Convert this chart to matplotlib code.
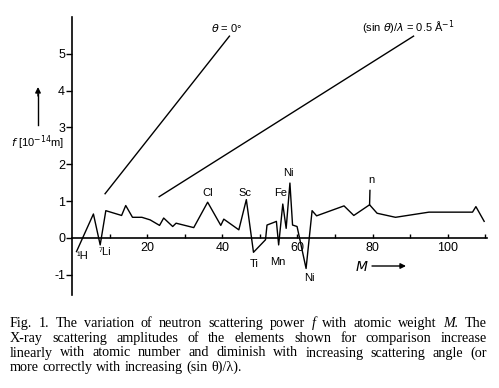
import numpy as np
import matplotlib.pyplot as plt

# %%
# Data: neutron scattering length f vs atomic weight M
M = [1.2, 5.7, 7.5, 9.0, 13.2, 14.3, 16.1, 18.6, 20.8, 23.3, 24.4, 26.8, 27.7,
     32.4, 36.1, 39.6, 40.4, 44.4, 46.4, 48.3, 51.5, 51.9, 53.7, 54.4, 55.0,
     56.1, 57.0, 58.0, 58.7, 59.9, 62.3, 63.9, 65.1, 72.4, 75.0, 79.2, 81.2,
     86.1, 95.0, 106.6, 107.5, 109.7]
f = [-0.37, 0.65, -0.19, 0.74, 0.61, 0.88, 0.56, 0.56, 0.49, 0.34, 0.54, 0.31,
     0.40, 0.28, 0.97, 0.34, 0.51, 0.22, 1.04, -0.39, -0.05, 0.35, 0.42, 0.45,
     -0.19, 0.92, 0.26, 1.49, 0.35, 0.31, -0.83, 0.74, 0.60, 0.87, 0.61, 0.90,
     0.67, 0.56, 0.70, 0.70, 0.85, 0.45]

# X-ray amplitude lines
xray0_M = [8.8, 41.9]
xray0_f = [1.2, 5.48]
xray05_M = [23.2, 90.9]
xray05_f = [1.12, 5.48]

# element labels
el_names = ['¹H', '⁷Li', 'Cl', 'Sc', 'Ti', 'Mn', 'Fe', 'Ni', 'Ni', 'n']
el_M = [2.8, 8.8, 36.1, 46.1, 48.4, 54.9, 55.5, 57.6, 63.2, 79.6]
el_f = [-0.50, -0.38, 1.23, 1.23, -0.71, -0.65, 1.23, 1.77, -1.09, 1.58]

n_leader_M = [79.2, 79.3]
n_leader_f = [0.90, 1.29]

caption = [
    "Fig. 1.  The variation of neutron scattering power f with atomic weight M. The",
    "X-ray scattering amplitudes of the elements shown for comparison increase",
    "linearly with atomic number and diminish with increasing scattering angle (or",
    "more correctly with increasing (sin θ)/λ).",
]

# %%
plt.rcParams['font.family'] = 'Liberation Sans'
plt.rcParams['mathtext.fontset'] = 'dejavusans'
plt.rcParams['axes.unicode_minus'] = False
fig = plt.figure(figsize=(4.99, 3.88), dpi=100)
ax = fig.add_axes([0.1443, 0.2397, 0.832, 0.7165])
ax.set_xlim(0, 110.5)
ax.set_ylim(-1.55, 6.0)

for s in ['top', 'right']:
    ax.spines[s].set_visible(False)
ax.spines['bottom'].set_position(('data', 0))
ax.spines['left'].set_linewidth(1.2)
ax.spines['bottom'].set_linewidth(1.2)

ax.set_yticks(range(-1, 6))
ax.tick_params(axis='y', direction='out', length=4, width=1, pad=1, labelsize=9)
ax.set_xticks([20, 40, 60, 80, 100])
ax.set_xticks(range(10, 111, 20), minor=True)
ax.tick_params(axis='x', which='both', direction='in', length=3, width=1,
               pad=3, labelsize=9)

ax.plot(M, f, color='black', lw=1.0)
ax.plot(n_leader_M, n_leader_f, color='black', lw=1.0)
ax.plot(xray0_M, xray0_f, color='black', lw=1.0)
ax.plot(xray05_M, xray05_f, color='black', lw=1.0)

for name, x, y in zip(el_names, el_M, el_f):
    ax.text(x, y, name, ha='center', va='center', fontsize=8)

ax.text(41.3, 5.7, r'$\theta$ = 0°', ha='center', va='center', fontsize=8)
ax.text(89.6, 5.7, r'(sin $\theta$)/$\lambda$ = 0.5 Å$^{-1}$', ha='center',
        va='center', fontsize=8)

# axis labels with arrows
fig.text(37 / 499, 1 - 143 / 388, r'$f$ [10$^{-14}$m]', ha='center', va='center',
         fontsize=8)
fig.add_artist(plt.Line2D([38 / 499, 38 / 499], [1 - 125 / 388, 1 - 94 / 388],
                          color='black', lw=1.0))
ax.annotate('', xy=(38 / 499, 1 - 87 / 388), xytext=(38 / 499, 1 - 96 / 388),
            xycoords='figure fraction',
            arrowprops=dict(arrowstyle='-|>', color='black', lw=1.0,
                            mutation_scale=8, shrinkA=0, shrinkB=0))
fig.text(362 / 499, 1 - 267 / 388, r'$M$', ha='center', va='center', fontsize=10)
ax.annotate('', xy=(406 / 499, 1 - 266 / 388), xytext=(372 / 499, 1 - 266 / 388),
            xycoords='figure fraction',
            arrowprops=dict(arrowstyle='-|>', color='black', lw=1.0,
                            mutation_scale=8, shrinkA=0, shrinkB=0))

# %%
# justified caption
W, H = 499, 388
left, right = 10, 487
baselines = [327.3, 342, 356.5, 371]
fig.canvas.draw()
r = fig.canvas.get_renderer()
for i, line in enumerate(caption):
    words = line.split()
    texts = []
    for w in words:
        style = 'italic' if w in ('f', 'M.') else 'normal'
        texts.append(fig.text(0, 1 - baselines[i] / H, w, family='Liberation Serif',
                              fontsize=10.2, style=style, va='baseline', ha='left'))
    widths = [t.get_window_extent(r).width for t in texts]
    if i < len(caption) - 1:
        gap = (right - left - sum(widths)) / (len(words) - 1)
    else:
        gap = 3.5
    x = left
    for t, wd in zip(texts, widths):
        t.set_x(x / W)
        x += wd + gap

fig.savefig('out.png', dpi=100)
